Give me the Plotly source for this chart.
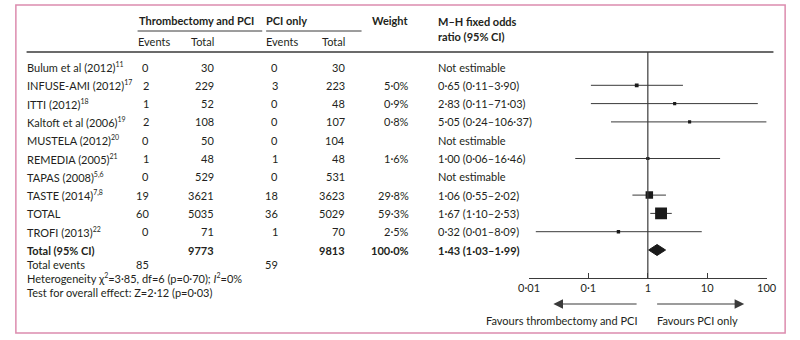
import math
import plotly.graph_objects as go

# ---------------- data ----------------
studies = ["Bulum et al (2012)", "INFUSE-AMI (2012)", "ITTI (2012)", "Kaltoft et al (2006)",
           "MUSTELA (2012)", "REMEDIA (2005)", "TAPAS (2008)", "TASTE (2014)", "TOTAL", "TROFI (2013)"]
refs = ["11", "17", "18", "19", "20", "21", "5,6", "7,8", "", "22"]
events_t = [0, 2, 1, 2, 0, 1, 0, 19, 60, 0]
total_t = [30, 229, 52, 108, 50, 48, 529, 3621, 5035, 71]
events_c = [0, 3, 0, 0, 0, 1, 0, 18, 36, 1]
total_c = [30, 223, 48, 107, 104, 48, 531, 3623, 5029, 70]
weights = [None, 5.0, 0.9, 0.8, None, 1.6, None, 29.8, 59.3, 2.5]
odds = [None, 0.65, 2.83, 5.05, None, 1.00, None, 1.06, 1.67, 0.32]
ci_low = [None, 0.11, 0.11, 0.24, None, 0.06, None, 0.55, 1.10, 0.013]
ci_high = [None, 3.90, 71.03, 106.37, None, 16.46, None, 2.02, 2.53, 8.09]

pooled_or = 1.43
pooled_low = 1.03
pooled_high = 1.99
pooled_weight = 100.0
heterogeneity = ("Heterogeneity χ<sup><span style='font-size:7px'>2</span></sup>=3·85, df=6 (p=0·70); "
                 "<i>I</i><sup><span style='font-size:7px'>2</span></sup>=0%")
overall_test = "Test for overall effect: Z=2·12 (p=0·03)"

tick_vals = [0.01, 0.1, 1, 10, 100]
tick_text = ["0·01", "0·1", "1", "10", "100"]

# ---------------- style ----------------
FONT = "Lato"
FS = 11
TXT = "#231f20"
LINE = "#3a3a3a"
PINK = "#dc8cae"

W, H = 800, 340
row_y0, row_dy = 67, 18.3
row_ys = [row_y0 + i * row_dy for i in range(len(studies))]
y_total = 250
y_events = 264
y_het = 278
y_test = 292
axis_y = 278
x_lo_px, x_hi_px = 532, 776


def fmt(v, d):
    return f"{v:.{d}f}".replace(".", "·")


fig = go.Figure()
ann = []


def txt(x, y, s, anchor="left", bold=False, size=FS, color=TXT):
    if bold:
        s = f"<b>{s}</b>"
    ann.append(dict(x=x, y=y, xref="x", yref="y", text=s, showarrow=False,
                    xanchor=anchor, yanchor="middle", borderpad=0, borderwidth=0,
                    font=dict(family=FONT, size=size, color=color)))


# headers
txt(131, 20, "Thrombectomy and PCI", bold=True)
txt(262, 20, "PCI only", bold=True)
txt(408, 20, "Weight", anchor="right", bold=True)
txt(438, 21, "M–H fixed odds", bold=True)
txt(438, 36, "ratio (95% CI)", bold=True)
txt(130, 41, "Events")
txt(185, 41, "Total")
txt(262, 41, "Events")
txt(319, 41, "Total")

# rows
for i, name in enumerate(studies):
    y = row_ys[i]
    label = name + (f"<sup><span style='font-size:7px'>{refs[i]}</span></sup>" if refs[i] else "")
    txt(16, y, label)
    txt(142, y, str(events_t[i]), anchor="right")
    txt(208, y, str(total_t[i]), anchor="right")
    txt(274, y, str(events_c[i]), anchor="right")
    txt(343, y, str(total_c[i]), anchor="right")
    if weights[i] is not None:
        txt(409, y, fmt(weights[i], 1) + "%", anchor="right")
        txt(438, y, f"{fmt(odds[i], 2)} ({fmt(ci_low[i], 2)}–{fmt(ci_high[i], 2)})")
    else:
        txt(438, y, "Not estimable")

# totals
txt(16, y_total, "Total (95% CI)", bold=True)
txt(208, y_total, str(sum(total_t)), anchor="right", bold=True)
txt(343, y_total, str(sum(total_c)), anchor="right", bold=True)
txt(409, y_total, fmt(pooled_weight, 1) + "%", anchor="right", bold=True)
txt(438, y_total, f"{fmt(pooled_or, 2)} ({fmt(pooled_low, 2)}–{fmt(pooled_high, 2)})", bold=True)
txt(16, y_events, "Total events")
txt(142, y_events, str(sum(events_t)), anchor="right")
txt(274, y_events, str(sum(events_c)), anchor="right")
txt(16, y_het, heterogeneity)
txt(16, y_test, overall_test)

# favours labels and arrows
txt(644, 320, "Favours thrombectomy and PCI", anchor="right")
txt(663, 320, "Favours PCI only")
for (x0, x1) in [(644, 557), (662, 753)]:
    ann.append(dict(x=x1, y=304, ax=x0, ay=304, xref="x", yref="y", axref="x", ayref="y",
                    text="", showarrow=True, arrowhead=2, arrowsize=1.6, arrowwidth=1.2,
                    arrowcolor=LINE))

# ---------------- forest marks ----------------
xmax = tick_vals[-1]
for i in range(len(studies)):
    if odds[i] is None:
        continue
    y = row_ys[i]
    hi = min(ci_high[i], xmax)
    fig.add_trace(go.Scatter(x=[ci_low[i], hi], y=[y, y], mode="lines",
                             line=dict(color=LINE, width=1), xaxis="x2", yaxis="y",
                             hoverinfo="skip", showlegend=False))
    if ci_high[i] > xmax:
        ann.append(dict(x=math.log10(xmax), y=y, ax=math.log10(xmax) - 0.05, ay=y,
                        xref="x2", yref="y", axref="x2", ayref="y", text="",
                        showarrow=True, arrowhead=2, arrowsize=1.4, arrowwidth=1,
                        arrowcolor=LINE))
    fig.add_trace(go.Scatter(x=[odds[i]], y=[y], mode="markers",
                             marker=dict(symbol="square", color="#1a1a1a",
                                         size=3 + weights[i] * 0.15, line=dict(width=0)),
                             xaxis="x2", yaxis="y", hoverinfo="skip", showlegend=False))

# pooled diamond
fig.add_trace(go.Scatter(x=[pooled_low, pooled_or, pooled_high, pooled_or, pooled_low],
                         y=[y_total, y_total - 5.5, y_total, y_total + 5.5, y_total],
                         mode="lines", fill="toself", fillcolor="#1a1a1a",
                         line=dict(color="#1a1a1a", width=1), xaxis="x2", yaxis="y",
                         hoverinfo="skip", showlegend=False))

# reference line at OR = 1
fig.add_trace(go.Scatter(x=[1, 1], y=[52, axis_y], mode="lines",
                         line=dict(color=LINE, width=1.2), xaxis="x2", yaxis="y",
                         hoverinfo="skip", showlegend=False))

# ---------------- shapes ----------------
shapes = [
    dict(type="rect", xref="paper", yref="paper", x0=5 / W, x1=795 / W,
         y0=1 - 333 / H, y1=1 - 5 / H, layer="above",
         line=dict(color=PINK, width=1.5), fillcolor="rgba(0,0,0,0)"),
    dict(type="line", xref="x", yref="y", x0=16, x1=783, y0=52, y1=52,
         line=dict(color=LINE, width=1.5)),
    dict(type="line", xref="x", yref="y", x0=130, x1=258, y0=31, y1=31,
         line=dict(color=LINE, width=1)),
    dict(type="line", xref="x", yref="y", x0=262, x1=360, y0=31, y1=31,
         line=dict(color=LINE, width=1)),
]

fig.update_layout(
    width=W, height=H, autosize=False,
    margin=dict(l=0, r=0, t=0, b=0, pad=0),
    paper_bgcolor="white", plot_bgcolor="white",
    showlegend=False,
    xaxis=dict(domain=[0, 1], range=[0, W], visible=False, fixedrange=True),
    yaxis=dict(domain=[0, 1], range=[H, 0], visible=False, fixedrange=True),
    xaxis2=dict(domain=[x_lo_px / W, x_hi_px / W], type="log",
                range=[math.log10(tick_vals[0]), math.log10(tick_vals[-1])],
                anchor="free", position=1 - axis_y / H,
                showline=True, linecolor=LINE, linewidth=1.2,
                ticks="inside", ticklen=5, tickcolor=LINE, tickwidth=1.2,
                tickvals=tick_vals, ticktext=tick_text, showgrid=False, zeroline=False,
                tickfont=dict(family=FONT, size=FS, color=TXT), fixedrange=True),
    annotations=ann,
    shapes=shapes,
)

fig.write_html("out.html",
               config={"displayModeBar": False, "staticPlot": True},
               post_script="document.body.style.margin='0';document.body.style.padding='0';"
                           "document.body.style.overflow='hidden';")
